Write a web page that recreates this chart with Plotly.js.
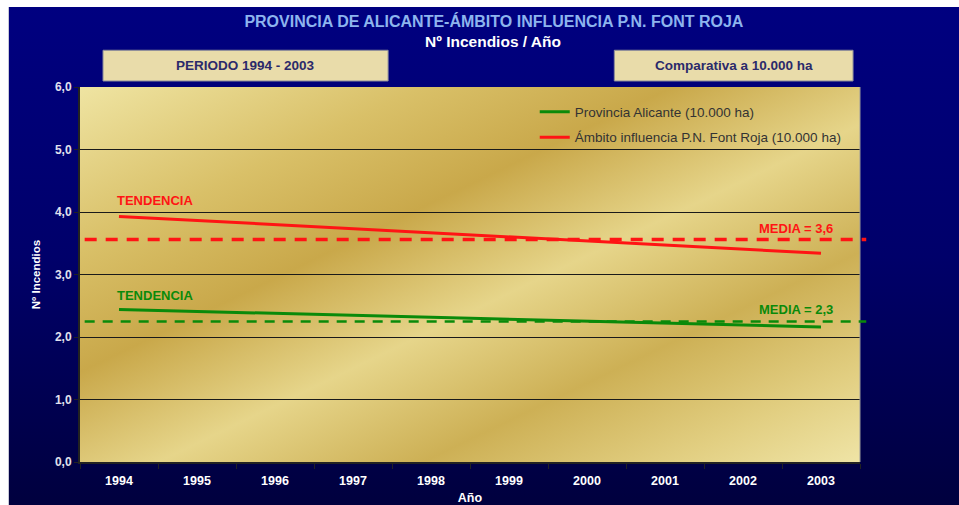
<!DOCTYPE html>
<html>
<head>
<meta charset="utf-8">
<script src="https://cdn.plot.ly/plotly-3.0.1.min.js"></script>
<style>
  body { margin: 0; background: #ffffff; }
  #bg {
    position: absolute; left: 8px; top: 7px; width: 951px; height: 498px;
    background: linear-gradient(to bottom, #000080 0%, #00006a 50%, #00003e 100%);
    border-left: 1px solid #c8c8d8;
  }
  #chart { position: absolute; left: 0; top: 0; width: 959px; height: 505px; }
</style>
</head>
<body>
<div id="bg"></div>
<div id="chart"></div>
<script>
// years on the x axis
var years = ['1994','1995','1996','1997','1998','1999','2000','2001','2002','2003'];

// trend lines (start and end year)
var trendYears = ['1994', '2003'];
var trendAlicante = [2.44, 2.16];
var trendFontRoja = [3.93, 3.34];

// means of each series
var mediaAlicante = 2.25;
var mediaFontRoja = 3.56;

var names = ['Provincia Alicante (10.000 ha)', 'Ámbito influencia P.N. Font Roja (10.000 ha)'];

var green = '#0a8a0a';
var red = '#ff1414';

function fmt(v) { return 'MEDIA = ' + v.toFixed(1).replace('.', ','); }

var trace1 = {
  x: trendYears,
  y: trendAlicante,
  name: names[0],
  legendgroup: 'a',
  mode: 'lines',
  line: {color: green, width: 3},
  type: 'scatter'
};

var trace2 = {
  x: trendYears,
  y: trendFontRoja,
  name: names[1],
  legendgroup: 'b',
  mode: 'lines',
  line: {color: red, width: 3},
  type: 'scatter'
};

var data = [trace1, trace2];

// gold background for the plot area
var goldSvg = '<svg xmlns="http://www.w3.org/2000/svg" width="780" height="375" preserveAspectRatio="none">' +
  '<defs><linearGradient id="g" x1="0" y1="0" x2="1" y2="1">' +
  '<stop offset="0" stop-color="#efe4a2"/>' +
  '<stop offset="0.22" stop-color="#d9c068"/>' +
  '<stop offset="0.38" stop-color="#c9a84a"/>' +
  '<stop offset="0.55" stop-color="#e6d58a"/>' +
  '<stop offset="0.72" stop-color="#cdb055"/>' +
  '<stop offset="0.88" stop-color="#e2cf82"/>' +
  '<stop offset="1" stop-color="#efe4a6"/>' +
  '</linearGradient></defs><rect width="780" height="375" fill="url(#g)"/></svg>';

var boxFont = {family: 'Liberation Sans, Arial, sans-serif', size: 13.5, color: '#2b2a6b'};
var labFont = function (c) { return {family: 'Liberation Sans, Arial, sans-serif', size: 13, color: c}; };
var x0 = years.indexOf(trendYears[0]);

var layout = {
  width: 959,
  height: 505,
  margin: {l: 80, r: 99, t: 87, b: 43},
  paper_bgcolor: 'rgba(0,0,0,0)',
  plot_bgcolor: 'rgba(0,0,0,0)',
  separators: ',.',
  showlegend: true,
  font: {family: 'Liberation Sans, Arial, sans-serif'},
  title: {
    text: '<b>PROVINCIA DE ALICANTE-ÁMBITO INFLUENCIA P.N. FONT ROJA</b>',
    font: {size: 16, color: '#8db4ee'},
    x: 0.515, xanchor: 'center',
    y: 0.958, yanchor: 'middle'
  },
  legend: {
    x: 0.583, xanchor: 'left',
    y: 0.975, yanchor: 'top',
    bgcolor: 'rgba(0,0,0,0)',
    font: {size: 13.5, color: '#333333'},
    itemwidth: 30,
    traceorder: 'grouped',
    tracegroupgap: 5
  },
  xaxis: {
    type: 'category',
    categoryorder: 'array',
    categoryarray: years,
    range: [-0.5, 9.5],
    tickvals: years,
    tickson: 'boundaries',
    ticks: 'outside',
    ticklen: 5,
    tickcolor: '#222222',
    ticklabelstandoff: 6,
    showgrid: false,
    showline: true,
    linecolor: '#222222',
    linewidth: 2,
    tickfont: {size: 12.5, color: '#ffffff', weight: 'bold'},
    title: {text: '<b>Año</b>', font: {size: 12.5, color: '#ffffff'}, standoff: 8}
  },
  yaxis: {
    range: [0, 6],
    dtick: 1,
    tickformat: '.1f',
    ticks: 'outside',
    ticklen: 4,
    tickcolor: '#222222',
    showgrid: true,
    gridcolor: '#1a1a1a',
    gridwidth: 1,
    zeroline: false,
    showline: true,
    linecolor: '#222222',
    linewidth: 2,
    tickfont: {size: 12, color: '#e0e0ee', weight: 'bold'},
    title: {text: '<b>Nº Incendios</b>', font: {size: 11.5, color: '#ffffff'}, standoff: 12}
  },
  images: [{
    source: 'data:image/svg+xml;charset=utf-8,' + encodeURIComponent(goldSvg),
    xref: 'paper', yref: 'paper',
    x: 0, y: 1, sizex: 1, sizey: 1,
    sizing: 'stretch', layer: 'below',
    xanchor: 'left', yanchor: 'top'
  }],
  shapes: [
    {type: 'line', xref: 'paper', yref: 'paper', x0: 1, x1: 1, y0: 0, y1: 1,
     line: {color: '#9a9a9a', width: 1}},
    {type: 'line', xref: 'paper', yref: 'y', x0: 0.006, x1: 1.008, y0: mediaFontRoja, y1: mediaFontRoja,
     line: {color: red, width: 3.5, dash: '12px,9px'}},
    {type: 'line', xref: 'paper', yref: 'y', x0: 0.006, x1: 1.008, y0: mediaAlicante, y1: mediaAlicante,
     line: {color: green, width: 2.5, dash: '10px,8px'}},
    {type: 'rect', xref: 'paper', yref: 'paper', x0: 0.0295, x1: 0.395, y0: 1.016, y1: 1.098,
     fillcolor: '#e9dcaa', line: {color: '#8a8a9a', width: 1}, layer: 'above'},
    {type: 'rect', xref: 'paper', yref: 'paper', x0: 0.685, x1: 0.9911, y0: 1.016, y1: 1.098,
     fillcolor: '#e9dcaa', line: {color: '#8a8a9a', width: 1}, layer: 'above'}
  ],
  annotations: [
    {text: '<b>Nº Incendios / Año</b>', xref: 'paper', yref: 'paper', x: 0.53, y: 1.12,
     xanchor: 'center', yanchor: 'middle', showarrow: false, font: {size: 15.5, color: '#ffffff'}},
    {text: '<b>PERIODO ' + years[0] + ' - ' + years[years.length - 1] + '</b>', xref: 'paper', yref: 'paper',
     x: 0.2123, y: 1.057, xanchor: 'center', yanchor: 'middle', showarrow: false, font: boxFont},
    {text: '<b>Comparativa a 10.000 ha</b>', xref: 'paper', yref: 'paper',
     x: 0.838, y: 1.057, xanchor: 'center', yanchor: 'middle', showarrow: false, font: boxFont},
    {text: '<b>TENDENCIA</b>', x: x0, y: trendFontRoja[0], xanchor: 'left', yanchor: 'bottom',
     xshift: -4, yshift: 6, showarrow: false, font: labFont(red)},
    {text: '<b>TENDENCIA</b>', x: x0, y: trendAlicante[0], xanchor: 'left', yanchor: 'bottom',
     xshift: -4, yshift: 5, showarrow: false, font: labFont(green)},
    {text: '<b>' + fmt(mediaFontRoja) + '</b>', xref: 'paper', x: 0.968, y: mediaFontRoja, xanchor: 'right',
     yanchor: 'bottom', yshift: 2, showarrow: false, font: labFont(red)},
    {text: '<b>' + fmt(mediaAlicante) + '</b>', xref: 'paper', x: 0.968, y: mediaAlicante, xanchor: 'right',
     yanchor: 'bottom', yshift: 2, showarrow: false, font: labFont(green)}
  ]
};

Plotly.newPlot('chart', data, layout, {displayModeBar: false, staticPlot: true});
</script>
</body>
</html>
